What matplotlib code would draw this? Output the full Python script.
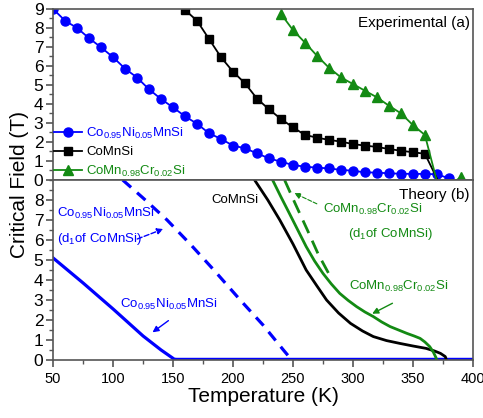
import matplotlib
matplotlib.use("Agg")
import matplotlib.pyplot as plt
from matplotlib.ticker import MultipleLocator

plt.rcParams["font.family"] = ["Liberation Sans", "DejaVu Sans"]
plt.rcParams["mathtext.fontset"] = "custom"
plt.rcParams["mathtext.rm"] = "Liberation Sans"
plt.rcParams["mathtext.it"] = "Liberation Sans"

# Experimental data (a)
exp_T_ni = [50, 60, 70, 80, 90, 100, 110, 120, 130, 140, 150, 160, 170, 180, 190, 200,
            210, 220, 230, 240, 250, 260, 270, 280, 290, 300, 310, 320, 330, 340, 350,
            360, 370, 380]
exp_H_ni = [9.0, 8.38, 8.0, 7.46, 6.98, 6.46, 5.86, 5.39, 4.77, 4.26, 3.82, 3.35, 2.96,
            2.46, 2.16, 1.81, 1.67, 1.40, 1.14, 0.96, 0.79, 0.70, 0.65, 0.61, 0.53, 0.49,
            0.40, 0.39, 0.35, 0.33, 0.32, 0.32, 0.30, 0.09]
exp_T_mn = [160, 170, 180, 190, 200, 210, 220, 230, 240, 250, 260, 270, 280, 290, 300,
            310, 320, 330, 340, 350, 360, 373]
exp_H_mn = [8.95, 8.38, 7.42, 6.46, 5.70, 5.09, 4.28, 3.72, 3.21, 2.77, 2.37, 2.23, 2.11,
            2.02, 1.89, 1.81, 1.74, 1.63, 1.54, 1.46, 1.38, -0.3]
exp_T_cr = [240, 250, 260, 270, 280, 290, 300, 310, 320, 330, 340, 350, 360, 371, 380, 390]
exp_H_cr = [8.74, 7.89, 7.23, 6.54, 5.91, 5.40, 5.05, 4.70, 4.35, 3.91, 3.51, 2.89, 2.37,
            -0.3, -0.3, 0.15]

# Theory (b)
th_T_ni = [50, 75, 100, 125, 140, 151, 153, 400]
th_H_ni = [5.1, 3.85, 2.55, 1.2, 0.5, 0.04, 0.03, 0.03]
th_T_ni_d1 = [108, 125, 145, 165, 184, 206, 225, 242, 249]
th_H_ni_d1 = [9.0, 8.1, 7.0, 5.75, 4.5, 3.0, 1.75, 0.5, 0.0]
th_T_mn = [218, 229, 239, 250, 261, 270, 278, 288, 298, 308, 317, 328, 339, 350, 361, 368,
           373, 377, 378]
th_H_mn = [9.0, 8.0, 7.0, 5.8, 4.5, 3.7, 3.0, 2.35, 1.83, 1.45, 1.17, 0.97, 0.83, 0.7,
           0.58, 0.45, 0.33, 0.17, 0.0]
th_T_cr = [233, 240, 247, 254, 261, 268, 275, 282, 289, 296, 303, 310, 317, 324, 331, 338,
           345, 351, 356, 360, 364, 367, 369, 370]
th_H_cr = [9.0, 8.15, 7.33, 6.5, 5.67, 4.95, 4.33, 3.8, 3.33, 2.98, 2.67, 2.4, 2.17, 1.9,
           1.67, 1.5, 1.33, 1.2, 1.08, 0.9, 0.67, 0.4, 0.15, 0.0]
th_T_cr_d1 = [243, 252, 262, 271, 280]
th_H_cr_d1 = [9.0, 7.8, 6.5, 5.3, 4.3]

blue = "#0000ff"
green = "#138a13"
spine = "#555555"

fig = plt.figure(figsize=(4.83, 4.18), dpi=100)
ax1 = fig.add_axes([0.110, 0.5694, 0.869, 0.4091])
ax2 = fig.add_axes([0.110, 0.1388, 0.869, 0.4306])

ax1.plot(exp_T_ni, exp_H_ni, "-o", color=blue, lw=1.3, ms=6.5,
         label=r"Co$_{0.95}$Ni$_{0.05}$MnSi")
ax1.plot(exp_T_mn, exp_H_mn, "-s", color="black", lw=1.3, ms=5.5, label="CoMnSi")
ax1.plot(exp_T_cr, exp_H_cr, "-^", color=green, lw=1.3, ms=6.5,
         label=r"CoMn$_{0.98}$Cr$_{0.02}$Si")
leg = ax1.legend(loc="lower left", bbox_to_anchor=(-0.01, -0.025), frameon=False,
                 fontsize=9.5, handlelength=2.1, handletextpad=0.3, labelspacing=0.42,
                 borderaxespad=0)
for txt, c in zip(leg.get_texts(), [blue, "black", green]):
    txt.set_color(c)
ax1.text(0.993, 0.92, "Experimental (a)", transform=ax1.transAxes, ha="right",
         va="center", fontsize=11)

ax2.plot(th_T_ni, th_H_ni, "-", color=blue, lw=2.3)
ax2.plot(th_T_ni_d1, th_H_ni_d1, "--", color=blue, lw=2.3, dashes=(3.5, 2.5))
ax2.plot(th_T_mn, th_H_mn, "-", color="black", lw=2.0)
ax2.plot(th_T_cr, th_H_cr, "-", color=green, lw=2.0)
ax2.plot(th_T_cr_d1, th_H_cr_d1, "--", color=green, lw=2.0, dashes=(5, 3))
ax2.text(0.993, 0.915, "Theory (b)", transform=ax2.transAxes, ha="right",
         va="center", fontsize=11)

ax2.text(182, 8.0, "CoMnSi", fontsize=9.5, va="center")
ax2.text(53, 7.35, r"Co$_{0.95}$Ni$_{0.05}$MnSi", fontsize=9.5, color=blue, va="center")
ax2.text(53, 6.05, r"(d$_1$of CoMnSi)", fontsize=9.5, color=blue, va="center")
ax2.annotate("", xy=(144, 6.6), xytext=(118, 6.0),
             arrowprops=dict(arrowstyle="-|>", color=blue, lw=1, ls="--",
                             mutation_scale=9))
ax2.text(106, 2.8, r"Co$_{0.95}$Ni$_{0.05}$MnSi", fontsize=9.5, color=blue, va="center")
ax2.annotate("", xy=(131, 1.3), xytext=(148, 2.05),
             arrowprops=dict(arrowstyle="-|>", color=blue, lw=1, mutation_scale=9))
ax2.text(275, 7.55, r"CoMn$_{0.98}$Cr$_{0.02}$Si", fontsize=9.5, color=green, va="center")
ax2.text(296, 6.3, r"(d$_1$of CoMnSi)", fontsize=9.5, color=green, va="center")
ax2.annotate("", xy=(249, 8.4), xytext=(272, 7.75),
             arrowprops=dict(arrowstyle="-|>", color=green, lw=0.8, ls="--",
                             mutation_scale=9))
ax2.text(297, 3.7, r"CoMn$_{0.98}$Cr$_{0.02}$Si", fontsize=9.5, color=green, va="center")
ax2.annotate("", xy=(314, 2.25), xytext=(335, 2.9),
             arrowprops=dict(arrowstyle="-|>", color=green, lw=1, mutation_scale=9))

for ax in (ax1, ax2):
    ax.set_xlim(50, 400)
    ax.set_ylim(0, 9)
    ax.xaxis.set_major_locator(MultipleLocator(50))
    ax.xaxis.set_minor_locator(MultipleLocator(25))
    ax.yaxis.set_major_locator(MultipleLocator(1))
    ax.yaxis.set_minor_locator(MultipleLocator(0.5))
    for s in ax.spines.values():
        s.set_color(spine)
        s.set_linewidth(1.2)
    ax.tick_params(axis="y", which="major", direction="out", length=5, width=1.2,
                   color=spine, labelsize=12.5, pad=2, right=False)
    ax.tick_params(axis="y", which="minor", direction="out", length=3, width=1,
                   color=spine, right=False)
    ax.tick_params(axis="x", which="major", direction="out", length=5, width=1.2,
                   color=spine, labelsize=10.5, top=False)
    ax.tick_params(axis="x", which="minor", direction="out", length=3, width=1,
                   color=spine, top=False)

ax1.tick_params(axis="x", which="both", bottom=False, labelbottom=False)
ax2.set_yticks([0, 1, 2, 3, 4, 5, 6, 7, 8])
ax2.set_xlabel("Temperature (K)", fontsize=15, labelpad=1)
fig.text(0.04, 1 - 185 / 418, "Critical Field (T)", rotation=90, fontsize=15,
         ha="center", va="center")

fig.savefig("out.png", dpi=100)
